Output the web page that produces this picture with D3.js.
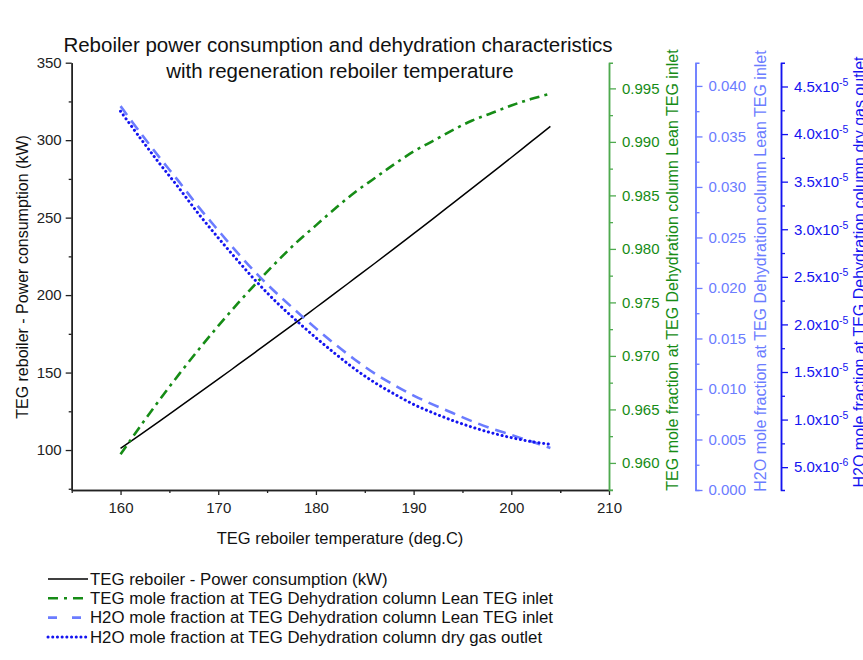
<!DOCTYPE html>
<html>
<head>
<meta charset="utf-8">
<script src="https://cdn.jsdelivr.net/npm/d3@7"></script>
<style>
  body { margin: 0; background: #fff; }
  text { font-family: "Liberation Sans", Arial, sans-serif; }
</style>
</head>
<body>
<svg id="chart" width="863" height="660"></svg>
<script>
// reboiler temperature (deg.C)
const temps = [160, 162, 164, 166, 168, 170, 172, 174, 176, 178, 180, 182,
  184, 186, 188, 190, 192, 194, 196, 198, 200, 202, 204]
// reboiler power consumption (kW)
const power = [101.0, 109.8, 118.7, 127.7, 136.7, 145.7, 154.9, 164.1, 173.3, 182.6, 192.0, 201.4,
  210.9, 220.4, 230.0, 239.7, 249.4, 259.2, 269.0, 278.9, 288.8, 298.9, 308.9]
// TEG mole fraction, lean TEG inlet
const tegLean = [0.9608, 0.9634, 0.9659, 0.9683, 0.9706, 0.9728, 0.9749, 0.9769, 0.9788, 0.9806, 0.9822, 0.9838,
  0.9853, 0.9866, 0.9879, 0.9891, 0.9901, 0.9911, 0.9920, 0.9927, 0.9934, 0.9940, 0.9945]
// H2O mole fraction, lean TEG inlet
const h2oLean = [0.03800, 0.03540, 0.03290, 0.03050, 0.02800, 0.02570, 0.02345, 0.02135, 0.01945, 0.01770, 0.01600, 0.01440,
  0.01290, 0.01155, 0.01040, 0.00935, 0.00845, 0.00762, 0.00680, 0.00608, 0.00545, 0.00482, 0.00415]
// H2O mole fraction, dry gas outlet
const h2oDry = [4.24e-5, 3.96e-5, 3.69e-5, 3.43e-5, 3.16e-5, 2.91e-5, 2.67e-5, 2.44e-5, 2.23e-5, 2.04e-5, 1.86e-5, 1.69e-5,
  1.53e-5, 1.39e-5, 1.27e-5, 1.16e-5, 1.07e-5, 9.9e-6, 9.2e-6, 8.6e-6, 8.1e-6, 7.7e-6, 7.4e-6]

const xTicks = [160, 170, 180, 190, 200, 210]
const powerTicks = [100, 150, 200, 250, 300, 350]
const tegTicks = [0.960, 0.965, 0.970, 0.975, 0.980, 0.985, 0.990, 0.995]
const leanTicks = [0.000, 0.005, 0.010, 0.015, 0.020, 0.025, 0.030, 0.035, 0.040]
const dryTicks = [5e-6, 1e-5, 1.5e-5, 2e-5, 2.5e-5, 3e-5, 3.5e-5, 4e-5, 4.5e-5]

const legendItems = [
  'TEG reboiler - Power consumption (kW)',
  'TEG mole fraction at TEG Dehydration column Lean TEG inlet',
  'H2O mole fraction at TEG Dehydration column Lean TEG inlet',
  'H2O mole fraction at TEG Dehydration column dry gas outlet'
]

const GREEN = '#168c16'
const GREEN_AXIS = '#4faa4f'
const LIGHT = '#6b7cff'
const BLUE = '#1414f0'

const svg = d3.select('#chart')
const plotTop = 62.7
const plotBottom = 490

const x = d3.scaleLinear([155, 210], [71.7, 609])
const yPow = d3.scaleLinear([74.2, 350], [plotBottom, plotTop])
const yTeg = d3.scaleLinear([0.95747, 0.9974], [plotBottom, plotTop])
const yLean = d3.scaleLinear([0, 0.0423], [plotBottom, plotTop])
const yDry = d3.scaleLinear([2.6e-6, 4.75e-5], [plotBottom, plotTop])

function styleAxis(g, color, fontColor) {
  g.selectAll('path').attr('stroke', color).attr('stroke-width', 1.5)
  g.selectAll('line').attr('stroke', color).attr('stroke-width', 1.3)
  g.selectAll('text').attr('fill', fontColor || color)
    .attr('font-size', 15)
    .attr('font-family', '"Liberation Sans", Arial, sans-serif')
}

function minorsOf(ticks) {
  const out = []
  for (let i = 0; i < ticks.length - 1; i++) out.push((ticks[i] + ticks[i + 1]) / 2)
  return out
}

// x axis
const xMinor = minorsOf(xTicks).concat([155, 205])
svg.append('g').attr('transform', `translate(0,${plotBottom})`)
  .call(d3.axisBottom(x).tickValues(xMinor).tickSize(3).tickSizeOuter(0).tickFormat(''))
  .call(g => styleAxis(g, '#222'))
svg.append('g').attr('transform', `translate(0,${plotBottom})`)
  .call(d3.axisBottom(x).tickValues(xTicks).tickSize(5).tickSizeOuter(0).tickPadding(7).tickFormat(d3.format('d')))
  .call(g => styleAxis(g, '#222'))

// left axis
svg.append('g').attr('transform', `translate(71.7,0)`)
  .call(d3.axisLeft(yPow).tickValues(minorsOf(powerTicks).concat([75])).tickSize(3).tickSizeOuter(0).tickFormat(''))
  .call(g => styleAxis(g, '#222'))
svg.append('g').attr('transform', `translate(71.7,0)`)
  .call(d3.axisLeft(yPow).tickValues(powerTicks).tickSize(6).tickSizeOuter(0).tickPadding(4).tickFormat(d3.format('d')))
  .call(g => styleAxis(g, '#222'))

// green axis
svg.append('g').attr('transform', `translate(609,0)`)
  .call(d3.axisRight(yTeg).tickValues(minorsOf(tegTicks).concat([0.9575])).tickSize(4).tickSizeOuter(4).tickFormat(''))
  .call(g => styleAxis(g, GREEN_AXIS))
svg.append('g').attr('transform', `translate(609,0)`)
  .call(d3.axisRight(yTeg).tickValues(tegTicks).tickSize(7).tickSizeOuter(0).tickPadding(6).tickFormat(d3.format('.3f')))
  .call(g => styleAxis(g, GREEN_AXIS, GREEN))

// light blue axis
svg.append('g').attr('transform', `translate(695.5,0)`)
  .call(d3.axisRight(yLean).tickValues(minorsOf(leanTicks)).tickSize(4).tickSizeOuter(4).tickFormat(''))
  .call(g => styleAxis(g, LIGHT))
svg.append('g').attr('transform', `translate(695.5,0)`)
  .call(d3.axisRight(yLean).tickValues(leanTicks).tickSize(7).tickSizeOuter(0).tickPadding(6).tickFormat(d3.format('.3f')))
  .call(g => styleAxis(g, LIGHT))

// dark blue axis
svg.append('g').attr('transform', `translate(781,0)`)
  .call(d3.axisRight(yDry).tickValues(minorsOf(dryTicks)).tickSize(4).tickSizeOuter(4).tickFormat(''))
  .call(g => styleAxis(g, BLUE))
svg.append('g').attr('transform', `translate(781,0)`)
  .call(d3.axisRight(yDry).tickValues(dryTicks).tickSize(7).tickSizeOuter(0).tickPadding(6).tickFormat(''))
  .call(g => styleAxis(g, BLUE))
  .call(g => g.selectAll('.tick text').each(function (d) {
    const exp = d < 1e-5 ? -6 : -5
    const mant = (d / Math.pow(10, exp)).toFixed(1)
    const t = d3.select(this)
    t.append('tspan').text(mant + 'x10')
    t.append('tspan').attr('dy', -6).attr('font-size', 10.5).text(exp)
  }))

// axis titles
svg.append('text').attr('transform', 'translate(22,277) rotate(-90)')
  .attr('text-anchor', 'middle').attr('dy', '0.35em').attr('font-size', 16).attr('fill', '#111')
  .text('TEG reboiler - Power consumption (kW)')
svg.append('text').attr('transform', 'translate(672,270) rotate(-90)')
  .attr('text-anchor', 'middle').attr('dy', '0.35em').attr('font-size', 16).attr('fill', GREEN)
  .text('TEG mole fraction at TEG Dehydration column Lean TEG inlet')
svg.append('text').attr('transform', 'translate(760,271) rotate(-90)')
  .attr('text-anchor', 'middle').attr('dy', '0.35em').attr('font-size', 16).attr('fill', LIGHT)
  .text('H2O mole fraction at TEG Dehydration column Lean TEG inlet')
svg.append('text').attr('transform', 'translate(859,272) rotate(-90)')
  .attr('text-anchor', 'middle').attr('dy', '0.35em').attr('font-size', 16).attr('fill', BLUE)
  .text('H2O mole fraction at TEG Dehydration column dry gas outlet')
svg.append('text').attr('x', 340).attr('y', 538)
  .attr('text-anchor', 'middle').attr('dy', '0.35em').attr('font-size', 16.5).attr('fill', '#111')
  .text('TEG reboiler temperature (deg.C)')

// title
svg.append('text').attr('x', 338).attr('y', 52)
  .attr('text-anchor', 'middle').attr('font-size', 20.5).attr('fill', '#111')
  .text('Reboiler power consumption and dehydration characteristics')
svg.append('text').attr('x', 340).attr('y', 78)
  .attr('text-anchor', 'middle').attr('font-size', 20.5).attr('fill', '#111')
  .text('with regeneration reboiler temperature')

// series
const series = [
  { values: power, y: yPow, color: '#000', width: 1.5, dash: null, cap: 'butt' },
  { values: tegLean, y: yTeg, color: GREEN, width: 2.6, dash: '10,5,3,5', cap: 'butt' },
  { values: h2oLean, y: yLean, color: LIGHT, width: 2.6, dash: '11,7', cap: 'butt' },
  { values: h2oDry, y: yDry, color: BLUE, width: 3, dash: '0.1,4.6', cap: 'round' }
]

series.forEach(s => {
  const line = d3.line()
    .x((d, i) => x(temps[i]))
    .y(d => s.y(d))
    .curve(d3.curveCatmullRom)
  svg.append('path')
    .datum(s.values)
    .attr('fill', 'none')
    .attr('stroke', s.color)
    .attr('stroke-width', s.width)
    .attr('stroke-dasharray', s.dash)
    .attr('stroke-linecap', s.cap)
    .attr('d', line)
})

// legend
const legend = svg.append('g')
legendItems.forEach((label, i) => {
  const s = series[i]
  const ly = 579 + i * 19.3
  legend.append('line')
    .attr('x1', 48).attr('x2', 88).attr('y1', ly).attr('y2', ly)
    .attr('stroke', s.color)
    .attr('stroke-width', s.width)
    .attr('stroke-dasharray', i === 1 ? '10,6,3,6' : (i === 2 ? '9,15' : s.dash))
    .attr('stroke-linecap', s.cap)
  legend.append('text')
    .attr('x', 90).attr('y', ly).attr('dy', '0.35em')
    .attr('font-size', 16.8).attr('fill', '#111')
    .text(label)
})
</script>
</body>
</html>
